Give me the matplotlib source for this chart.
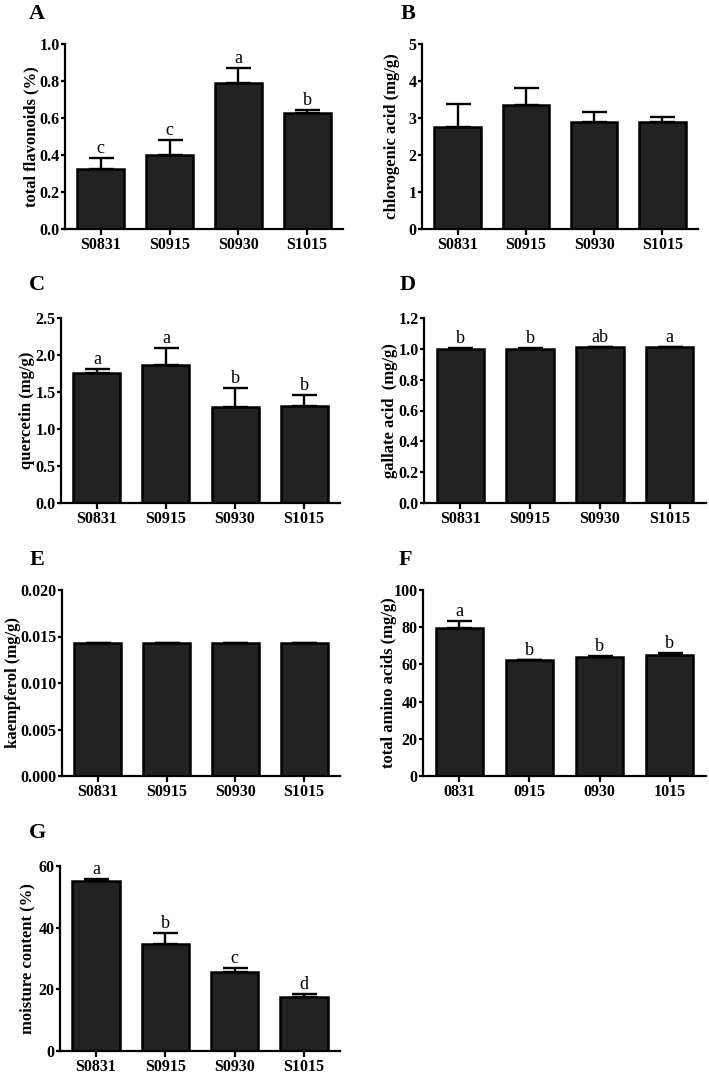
import matplotlib
matplotlib.use("Agg")
import matplotlib.pyplot as plt
import numpy as np

plt.rcParams['font.family'] = ['Liberation Serif', 'DejaVu Serif']

samples = ['S0831', 'S0915', 'S0930', 'S1015']
samples_short = ['0831', '0915', '0930', '1015']

flavonoids = [0.324, 0.40, 0.788, 0.628]
flavonoids_err = [0.062, 0.082, 0.084, 0.014]
flavonoids_sig = ['c', 'c', 'a', 'b']

chlorogenic = [2.76, 3.36, 2.90, 2.90]
chlorogenic_err = [0.61, 0.46, 0.27, 0.13]

quercetin = [1.76, 1.86, 1.30, 1.31]
quercetin_err = [0.05, 0.24, 0.26, 0.15]
quercetin_sig = ['a', 'a', 'b', 'b']

gallate = [1.002, 1.002, 1.01, 1.01]
gallate_err = [0.003, 0.002, 0.004, 0.003]
gallate_sig = ['b', 'b', 'ab', 'a']

kaempferol = [0.01434, 0.01434, 0.01434, 0.01434]
kaempferol_err = [0.0, 0.0, 0.0, 0.0]

amino = [79.7, 62.4, 64.2, 64.9]
amino_err = [3.6, 0.2, 0.5, 1.2]
amino_sig = ['a', 'b', 'b', 'b']

moisture = [55.1, 34.8, 25.6, 17.4]
moisture_err = [0.8, 3.5, 1.3, 1.2]
moisture_sig = ['a', 'b', 'c', 'd']

W, H = 709, 1073
fig = plt.figure(figsize=(W / 100, H / 100), dpi=100)


def make_axes(left, right, top, bottom):
    ax = fig.add_axes([left / W, 1 - bottom / H, (right - left) / W, (bottom - top) / H])
    ax._px = (left, right)
    return ax


def bar_panel(ax, letter, letter_xy, label_x, vals, errs, ylabel, ymax, yticks, fmt,
              labels=samples, sig=None):
    x = np.arange(len(vals))
    ax.bar(x, vals, width=0.68, color='#222222', edgecolor='black', linewidth=1.8, zorder=2)
    yerr = [np.zeros(len(errs)), errs]
    ax.errorbar(x, vals, yerr=yerr, fmt='none', ecolor='black', elinewidth=1.7,
                capsize=9, capthick=1.7, zorder=1)
    ax.set_xlim(-0.52, 3.52)
    ax.set_ylim(0, ymax)
    ax.set_yticks(yticks)
    ax.set_yticklabels([fmt.format(t) for t in yticks], fontsize=11.5, fontweight='bold')
    ax.set_xticks(x)
    ax.set_xticklabels(labels, fontsize=11.5, fontweight='bold')
    ax.set_ylabel(ylabel, fontsize=12, fontweight='bold')
    # label_x is the wanted centre of the rotated label, in figure pixels
    left, right = ax._px
    ax.yaxis.set_label_coords((label_x + 8 - left) / (right - left), 0.5)
    for s in ['top', 'right']:
        ax.spines[s].set_visible(False)
    for s in ['left', 'bottom']:
        ax.spines[s].set_linewidth(1.6)
    ax.tick_params(axis='y', length=3, width=1.6, pad=1)
    ax.tick_params(axis='x', length=4, width=1.6, pad=1.5)
    if sig is not None:
        for xi, v, e, s in zip(x, vals, errs, sig):
            ax.text(xi, v + e + ymax * 0.005, s, ha='center', va='bottom', fontsize=13)
    fig.text(letter_xy[0] / W, 1 - letter_xy[1] / H, letter, fontsize=16, fontweight='bold',
             ha='center', va='center')


axA = make_axes(65, 343, 44, 229)
bar_panel(axA, 'A', (37, 14), 31, flavonoids, flavonoids_err, 'total flavonoids (%)', 1.0,
          [0, 0.2, 0.4, 0.6, 0.8, 1.0], '{:.1f}', sig=flavonoids_sig)

axB = make_axes(422, 698, 44, 229)
bar_panel(axB, 'B', (408, 14), 392, chlorogenic, chlorogenic_err, 'chlorogenic acid (mg/g)', 5,
          [0, 1, 2, 3, 4, 5], '{:.0f}')

axC = make_axes(61, 340, 318, 503)
bar_panel(axC, 'C', (37, 285), 27, quercetin, quercetin_err, 'quercetin (mg/g)', 2.5,
          [0, 0.5, 1.0, 1.5, 2.0, 2.5], '{:.1f}', sig=quercetin_sig)

axD = make_axes(424, 706, 318, 503)
bar_panel(axD, 'D', (408, 285), 390, gallate, gallate_err, 'gallate acid  (mg/g)', 1.2,
          [0, 0.2, 0.4, 0.6, 0.8, 1.0, 1.2], '{:.1f}', sig=gallate_sig)

axE = make_axes(62, 340, 590, 776)
bar_panel(axE, 'E', (37, 560), 13, kaempferol, kaempferol_err, 'kaempferol (mg/g)', 0.02,
          [0, 0.005, 0.010, 0.015, 0.020], '{:.3f}')

axF = make_axes(423, 706, 590, 776)
bar_panel(axF, 'F', (405, 560), 389, amino, amino_err, 'total amino acids (mg/g)', 100,
          [0, 20, 40, 60, 80, 100], '{:.0f}', labels=samples_short, sig=amino_sig)

axG = make_axes(60, 340, 866, 1051)
bar_panel(axG, 'G', (37, 833), 27, moisture, moisture_err, 'moisture content (%)', 60,
          [0, 20, 40, 60], '{:.0f}', sig=moisture_sig)

fig.savefig('out.png', dpi=100, facecolor='white')
